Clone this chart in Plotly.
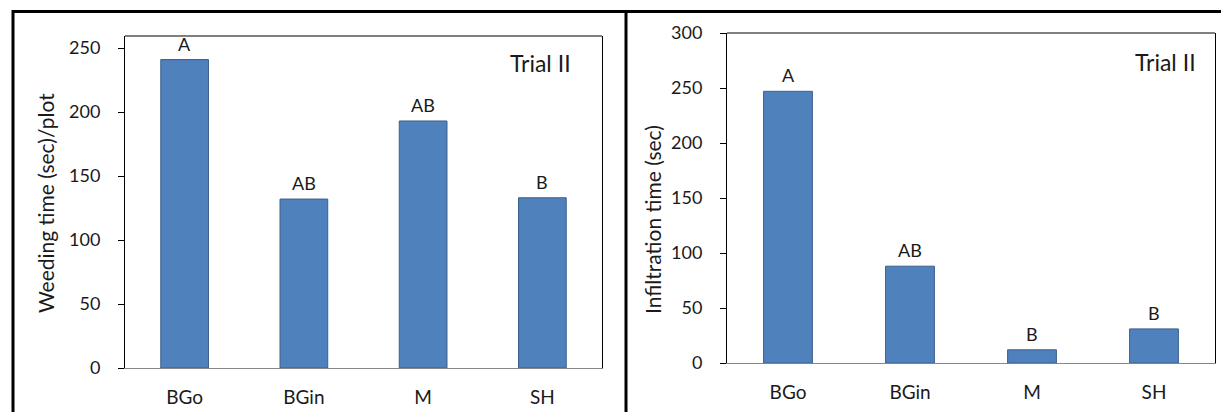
import plotly.graph_objects as go

categories = ["BGo", "BGin", "M", "SH"]
weeding_time = [241, 132, 193, 133]
weeding_letters = ["A", "AB", "AB", "B"]
infiltration_time = [247, 88, 12, 31]
infiltration_letters = ["A", "AB", "B", "B"]
panel_label = "Trial II"
left_title = "Weeding time (sec)/plot"
right_title = "Infiltration time (sec)"

W, H = 1221, 412
FONT = "Lato"
TXT = "#1a1a1a"
BAR = "#4F81BD"
EDGE = "#3A5F8C"

def px_x(p):
    return p / W

def px_y(p):
    return 1 - p / H

fig = go.Figure()
fig.add_trace(go.Bar(x=categories, y=weeding_time, width=0.4,
                     marker=dict(color=BAR, line=dict(color=EDGE, width=1)),
                     xaxis="x", yaxis="y", showlegend=False))
fig.add_trace(go.Bar(x=categories, y=infiltration_time, width=0.4,
                     marker=dict(color=BAR, line=dict(color=EDGE, width=1)),
                     xaxis="x2", yaxis="y2", showlegend=False))

ann = []
for c, v, t in zip(categories, weeding_time, weeding_letters):
    ann.append(dict(x=c, y=v, xref="x", yref="y", text=t, showarrow=False,
                    yanchor="bottom", yshift=3, font=dict(family=FONT, size=18, color=TXT)))
for c, v, t in zip(categories, infiltration_time, infiltration_letters):
    ann.append(dict(x=c, y=v, xref="x2", yref="y2", text=t, showarrow=False,
                    yanchor="bottom", yshift=3, font=dict(family=FONT, size=18, color=TXT)))
ann.append(dict(x=px_x(573), y=px_y(63), xref="paper", yref="paper", text=panel_label,
                showarrow=False, xanchor="right", yanchor="middle",
                font=dict(family=FONT, size=23, color=TXT)))
ann.append(dict(x=px_x(1198), y=px_y(62), xref="paper", yref="paper", text=panel_label,
                showarrow=False, xanchor="right", yanchor="middle",
                font=dict(family=FONT, size=23, color=TXT)))
ann.append(dict(x=px_x(45), y=px_y(203), xref="paper", yref="paper", text=left_title,
                showarrow=False, textangle=-90, xanchor="center", yanchor="middle",
                font=dict(family=FONT, size=21, color=TXT)))
ann.append(dict(x=px_x(652), y=px_y(220), xref="paper", yref="paper", text=right_title,
                showarrow=False, textangle=-90, xanchor="center", yanchor="middle",
                font=dict(family=FONT, size=21, color=TXT)))

xcommon = dict(showline=True, linecolor="#868686", linewidth=1, ticks="", ticklen=0,
               showgrid=False, zeroline=False, automargin=False,
               tickfont=dict(family=FONT, size=19, color=TXT), ticklabelstandoff=12,
               fixedrange=True)
ycommon = dict(showline=True, linecolor="black", linewidth=1, mirror=True,
               ticks="outside", ticklen=6, tickcolor="black", showgrid=False,
               zeroline=False, automargin=False, tickfont=dict(family=FONT, size=18, color=TXT),
               ticklabelstandoff=14, fixedrange=True)

fig.update_layout(
    width=W, height=H, margin=dict(l=0, r=0, t=0, b=0, autoexpand=False),
    paper_bgcolor="white", plot_bgcolor="white",
    xaxis=dict(domain=[px_x(125), px_x(602)], anchor="y", **xcommon),
    yaxis=dict(domain=[px_y(368), px_y(36)], anchor="x", range=[0, 259.4],
               tickvals=[0, 50, 100, 150, 200, 250], **ycommon),
    xaxis2=dict(domain=[px_x(727), px_x(1215)], anchor="y2", **xcommon),
    yaxis2=dict(domain=[px_y(363), px_y(33)], anchor="x2", range=[0, 300],
                tickvals=[0, 50, 100, 150, 200, 250, 300], **ycommon),
    annotations=ann,
    shapes=[
        dict(type="line", xref="x domain", yref="y domain", x0=0, x1=1, y0=1, y1=1,
             line=dict(color="black", width=1)),
        dict(type="line", xref="x2 domain", yref="y2 domain", x0=0, x1=1, y0=1, y1=1,
             line=dict(color="black", width=1)),
        dict(type="line", xref="paper", yref="paper", x0=px_x(12), x1=1, y0=px_y(11.5), y1=px_y(11.5),
             line=dict(color="black", width=3)),
        dict(type="line", xref="paper", yref="paper", x0=px_x(13), x1=px_x(13), y0=px_y(10), y1=0,
             line=dict(color="black", width=3)),
        dict(type="line", xref="paper", yref="paper", x0=px_x(626), x1=px_x(626), y0=px_y(10), y1=0,
             line=dict(color="black", width=3)),
    ],
)

fig.write_html(
    "out.html",
    config={"displayModeBar": False},
    post_script="document.body.style.margin='0';document.body.style.overflow='hidden';",
)
